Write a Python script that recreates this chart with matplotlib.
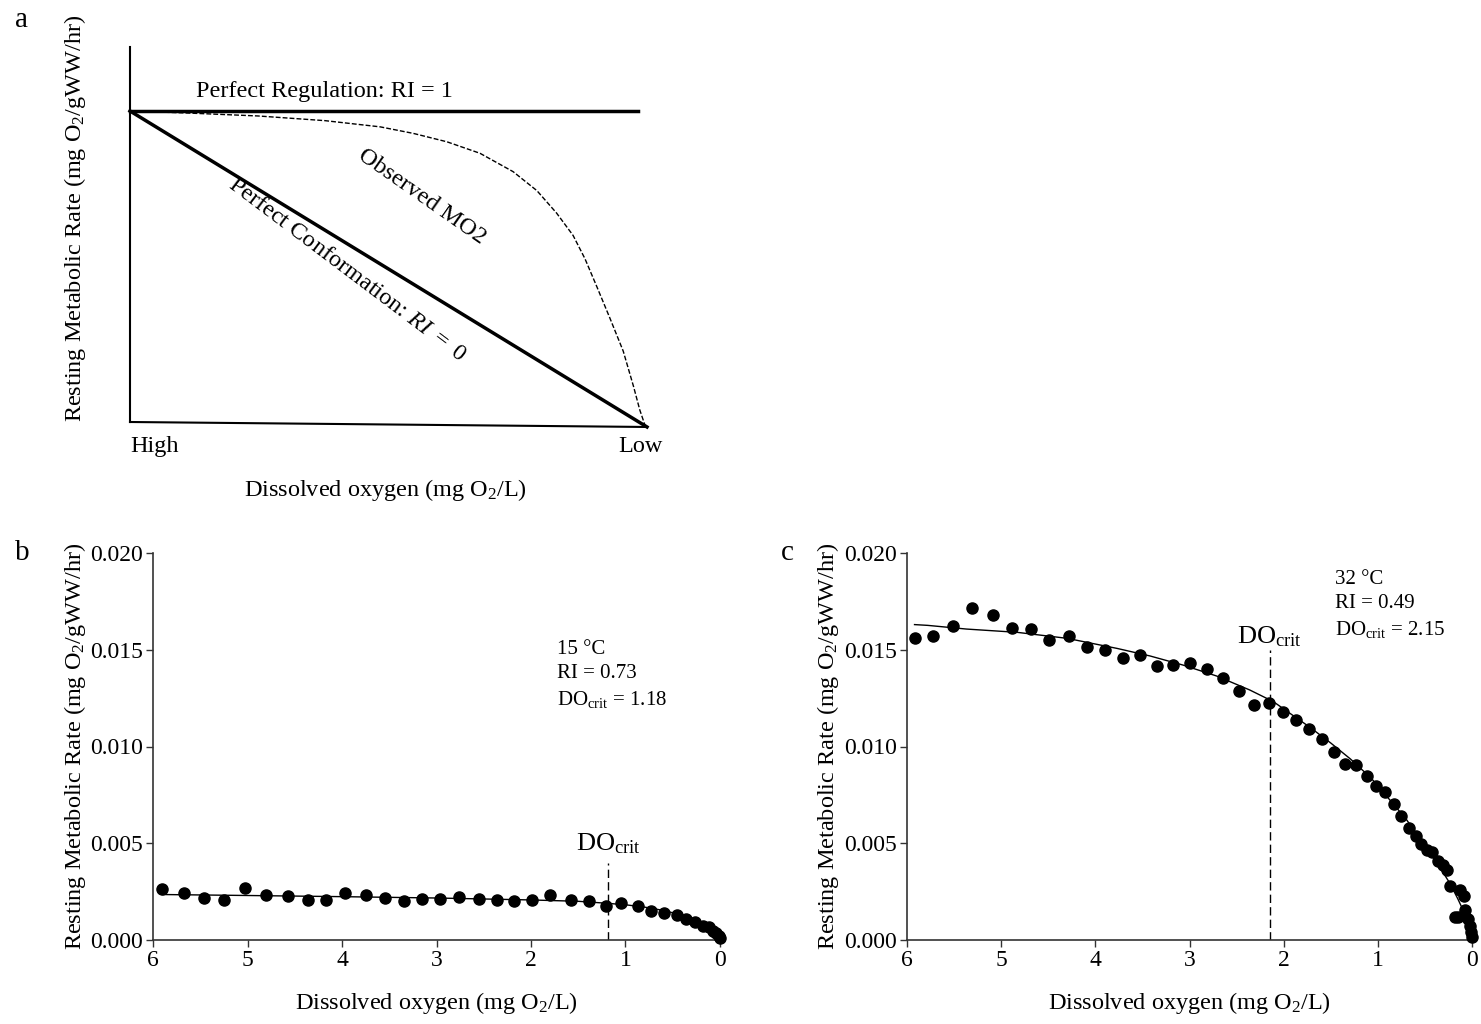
import matplotlib
matplotlib.use("Agg")
import matplotlib.pyplot as plt

plt.rcParams["font.family"] = ["Liberation Serif", "DejaVu Serif"]
plt.rcParams["mathtext.fontset"] = "custom"
plt.rcParams["mathtext.rm"] = "Liberation Serif"
plt.rcParams["mathtext.it"] = "Liberation Serif:italic"

# panel b: 15 °C
do_15 = [5.90, 5.67, 5.46, 5.25, 5.03, 4.80, 4.57, 4.36, 4.17, 3.97, 3.75, 3.54,
         3.34, 3.15, 2.96, 2.76, 2.55, 2.36, 2.18, 1.99, 1.80, 1.58, 1.39, 1.21,
         1.05, 0.87, 0.73, 0.59, 0.46, 0.36, 0.26, 0.18, 0.12, 0.075, 0.04, 0.013, 0.0]
mo2_15 = [2.64, 2.41, 2.19, 2.07, 2.70, 2.34, 2.29, 2.07, 2.07, 2.43, 2.34, 2.19,
          2.00, 2.14, 2.14, 2.20, 2.14, 2.07, 2.02, 2.07, 2.33, 2.07, 2.00, 1.77,
          1.93, 1.77, 1.48, 1.40, 1.27, 1.09, 0.95, 0.74, 0.65, 0.48, 0.36, 0.19, 0.10]
fit_do_15 = [5.9, 5.0, 4.0, 3.0, 2.0, 1.5, 1.2, 1.0, 0.8, 0.6, 0.4, 0.3, 0.2, 0.15,
             0.1, 0.05, 0.02, 0.0]
fit_mo2_15 = [2.35, 2.30, 2.24, 2.17, 2.07, 2.00, 1.90, 1.82, 1.70, 1.53, 1.28, 1.12,
              0.92, 0.79, 0.64, 0.45, 0.28, 0.05]
docrit_15 = 1.18
ri_15 = 0.73

# panel c: 32 °C
do_32 = [5.92, 5.72, 5.51, 5.31, 5.09, 4.89, 4.68, 4.49, 4.28, 4.09, 3.90, 3.71,
         3.53, 3.35, 3.17, 2.99, 2.81, 2.64, 2.47, 2.32, 2.16, 2.01, 1.87, 1.73,
         1.59, 1.47, 1.35, 1.23, 1.12, 1.02, 0.92, 0.83, 0.75, 0.67, 0.60, 0.54,
         0.48, 0.43, 0.36, 0.31, 0.27, 0.23, 0.13, 0.09, 0.18, 0.15, 0.07, 0.04,
         0.02, 0.01, 0.0]
mo2_32 = [15.62, 15.73, 16.23, 17.14, 16.80, 16.14, 16.06, 15.49, 15.73, 15.12,
          14.97, 14.56, 14.73, 14.14, 14.21, 14.30, 13.99, 13.56, 12.89, 12.14,
          12.23, 11.80, 11.39, 10.89, 10.37, 9.70, 9.11, 9.04, 8.46, 7.94, 7.63,
          7.03, 6.39, 5.79, 5.39, 4.96, 4.67, 4.53, 4.10, 3.88, 3.62, 2.77, 2.60,
          2.29, 1.21, 1.17, 1.55, 1.09, 0.74, 0.40, 0.14]
fit_do_32 = [5.92, 5.78, 5.37, 4.83, 4.30, 3.77, 3.42, 3.07, 2.71, 2.36, 2.11, 1.90,
             1.72, 1.50, 1.29, 1.07, 0.85, 0.70, 0.55, 0.43, 0.33, 0.23, 0.15, 0.10,
             0.066, 0.03, 0.0]
fit_mo2_32 = [16.30, 16.26, 16.07, 15.90, 15.59, 15.07, 14.68, 14.21, 13.64, 12.92,
              12.32, 11.60, 10.99, 10.18, 9.35, 8.36, 7.11, 6.25, 5.22, 4.42, 3.67,
              2.89, 2.12, 1.60, 1.09, 0.60, 0.05]
docrit_32 = 2.15
ri_32 = 0.49

# panel a: schematic, oxygen runs High -> Low
observed_x = [0.0, 0.119, 0.248, 0.377, 0.484, 0.548, 0.613, 0.677, 0.741, 0.787,
              0.825, 0.857, 0.880, 0.903, 0.928, 0.954, 0.974, 0.986, 0.996, 1.0]
observed_y = [1.0, 0.993, 0.984, 0.969, 0.949, 0.928, 0.901, 0.864, 0.805, 0.744,
              0.672, 0.600, 0.525, 0.435, 0.335, 0.228, 0.114, 0.039, -0.010, -0.016]

ylabel = "Resting Metabolic Rate (mg O$_2$/gWW/hr)"
xlabel = "Dissolved oxygen (mg O$_2$/L)"
FS = 17.5
TICK_FS = 17

fig = plt.figure(figsize=(14.81, 10.24), dpi=100)

# ---- panel a
ax_a = fig.add_axes([130 / 1481, 1 - 422 / 1024, 517 / 1481, 311 / 1024])
ax_a.set_xlim(0, 1)
ax_a.set_ylim(0, 1)
ax_a.axis("off")
ax_a.plot([0, 0], [0, 1.206], color="black", lw=1.5, clip_on=False)
ax_a.plot([0, 1], [0, -0.016], color="black", lw=1.5, clip_on=False)
ax_a.plot([0, 0.983], [1, 1], color="black", lw=2.5, clip_on=False)
ax_a.plot([0, 1], [1, -0.016], color="black", lw=2.5, clip_on=False)
ax_a.plot(observed_x, observed_y, color="black", lw=1, ls=(0, (3.5, 1.5)), clip_on=False)
ax_a.text(0.128, 1.03, "Perfect Regulation: RI = 1", fontsize=FS, ha="left", va="bottom")
ax_a.text(0.565, 0.725, "Observed MO2", fontsize=FS, rotation=-35,
          ha="center", va="center", rotation_mode="anchor")
ax_a.text(0.42, 0.49, r"Perfect Conformation: $\mathit{RI\ =\ 0}$", fontsize=FS,
          rotation=-37, ha="center", va="center", rotation_mode="anchor")
ax_a.text(0.0, -0.08, "High", fontsize=FS, ha="left", va="center")
ax_a.text(1.03, -0.08, "Low", fontsize=FS, ha="right", va="center")
ax_a.text(0.494, -0.219, xlabel, fontsize=FS, ha="center", va="center")
ax_a.text(-0.106, 0.655, ylabel, fontsize=FS, rotation=90, ha="center", va="center")


def panel(ax, do, mo2, fit_do, fit_mo2, docrit, dash_top, label_y, temp, ri,
          txt_x, txt_y, ylab_x):
    ax.plot(do, [v / 1000 for v in mo2], "o", color="black", ms=8, clip_on=False, zorder=3)
    ax.plot(fit_do, [v / 1000 for v in fit_mo2], color="black", lw=1, clip_on=False)
    ax.plot([docrit, docrit], [0, dash_top], color="black", lw=1, ls=(0, (6, 3)))
    ax.text(docrit, label_y, r"DO$_{\mathrm{crit}}$", fontsize=19, ha="center", va="center")
    ax.text(txt_x, txt_y, f"{temp} \u00b0C\nRI = {ri:.2f}\n" + r"DO$_{\mathrm{crit}}$" + f" = {docrit:.2f}",
            fontsize=15, ha="left", va="top", linespacing=1.35)
    ax.set_xlim(6, 0)
    ax.set_ylim(0, 0.020)
    ax.set_xticks([6, 5, 4, 3, 2, 1, 0])
    ax.set_yticks([0.0, 0.005, 0.010, 0.015, 0.020])
    ax.set_yticklabels(["0.000", "0.005", "0.010", "0.015", "0.020"])
    for s in ["top", "right"]:
        ax.spines[s].set_visible(False)
    for s in ["left", "bottom"]:
        ax.spines[s].set_color("#333333")
        ax.spines[s].set_linewidth(1.2)
    ax.tick_params(direction="out", length=5, width=1, color="#333333",
                   labelsize=TICK_FS, pad=2)
    ax.text(0.5, -0.163, xlabel, fontsize=FS, ha="center", va="center",
            transform=ax.transAxes)
    ax.text(ylab_x, 0.5, ylabel, fontsize=FS, rotation=90, ha="center", va="center",
            transform=ax.transAxes)


ax_b = fig.add_axes([153 / 1481, 1 - 940 / 1024, 567 / 1481, 387 / 1024])
panel(ax_b, do_15, mo2_15, fit_do_15, fit_mo2_15, docrit_15, 0.0040, 0.0050,
      15, ri_15, 1.72, 0.0155, -0.138)

ax_c = fig.add_axes([907 / 1481, 1 - 940 / 1024, 565 / 1481, 387 / 1024])
panel(ax_c, do_32, mo2_32, fit_do_32, fit_mo2_32, docrit_32, 0.0150, 0.0157,
      32, ri_32, 1.46, 0.0191, -0.140)

fig.text(15 / 1481, 1 - 20 / 1024, "a", fontsize=21, ha="left", va="center")
fig.text(15 / 1481, 1 - 553 / 1024, "b", fontsize=21, ha="left", va="center")
fig.text(781 / 1481, 1 - 553 / 1024, "c", fontsize=21, ha="left", va="center")

fig.savefig("out.png", dpi=100)
